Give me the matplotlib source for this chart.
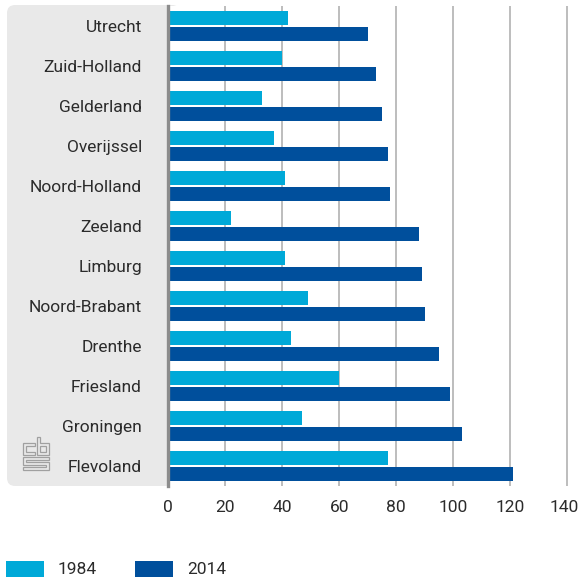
import numpy as np
import matplotlib
matplotlib.use("Agg")
import matplotlib.pyplot as plt
import matplotlib.transforms as mtransforms
from matplotlib.patches import FancyBboxPatch, Rectangle, Polygon

provincies = ["Utrecht", "Zuid-Holland", "Gelderland", "Overijssel", "Noord-Holland",
              "Zeeland", "Limburg", "Noord-Brabant", "Drenthe", "Friesland",
              "Groningen", "Flevoland"]
waarden_1984 = [42, 40, 33, 37, 41, 22, 41, 49, 43, 60, 47, 77]
waarden_2014 = [70, 73, 75, 77, 78, 88, 89, 90, 95, 99, 103, 121]
jaren = ["1984", "2014"]
kleuren = ["#00a9d8", "#004f9c"]
xticks = [0, 20, 40, 60, 80, 100, 120, 140]

W, H = 580, 581
plt.rcParams["font.family"] = ["Roboto", "DejaVu Sans"]
tekstkleur = "#2b2b2b"
fs = 12.5

fig = plt.figure(figsize=(W / 100, H / 100), dpi=100)


def fx(px):
    return px / W


def fy(py):
    return 1 - py / H


ax = fig.add_axes([fx(168.3), fy(486), (572.7 - 168.3) / W, 480 / H])

y = np.arange(len(provincies))
ax.barh(y - 0.2, waarden_1984, height=0.37, color=kleuren[0], zorder=3)
ax.barh(y + 0.2, waarden_2014, height=0.37, color=kleuren[1], zorder=3)

ax.set_xlim(0, 142)
ax.set_ylim(len(provincies) - 0.5, -0.5)
ax.set_xticks(xticks)
ax.set_yticks(y)
ax.set_yticklabels(provincies)
ax.xaxis.grid(True, color="#bdbdbd", linewidth=1.4, zorder=1)
ax.tick_params(axis="y", length=0, pad=19, labelsize=fs, labelcolor=tekstkleur)
ax.tick_params(axis="x", length=0, pad=10, labelsize=fs, labelcolor=tekstkleur)
for s in ["top", "right", "bottom"]:
    ax.spines[s].set_visible(False)
ax.spines["left"].set_color("#8c8c8c")
ax.spines["left"].set_linewidth(2.4)
ax.spines["left"].set_zorder(5)

# laatste ticklabel iets naar links zodat hij binnen het beeld valt
laatste = ax.get_xticklabels()[-1]
laatste.set_transform(laatste.get_transform() +
                      mtransforms.ScaledTranslation(-2.5 / 100, 0, fig.dpi_scale_trans))

# grijs paneel achter de labels
paneel = FancyBboxPatch((fx(7), fy(486)), fx(180 - 7), (486 - 5) / H,
                        boxstyle="round,pad=0,rounding_size=0.014",
                        transform=fig.transFigure, facecolor="#e9e9e9",
                        edgecolor="none", zorder=-1)
fig.patches.append(paneel)

# cbs-logo
logo_delen = [
    [(35, 443), (23, 443), (23, 455), (35, 455), (35, 452), (26, 452), (26, 446), (35, 446)],
    [(37, 437), (37, 455), (49, 455), (49, 443), (40, 443), (40, 437)],
    [(40, 446), (46, 446), (46, 452), (40, 452)],
    [(49, 457), (23, 457), (23, 465), (46, 465), (46, 467), (23, 467), (23, 470),
     (49, 470), (49, 462), (26, 462), (26, 460), (49, 460)],
]
for deel in logo_delen:
    pts = [(fx(a), fy(b)) for a, b in deel]
    fig.patches.append(Polygon(pts, closed=True, fill=False, edgecolor="#a0a0a0",
                               linewidth=0.9, transform=fig.transFigure, zorder=2))

# legenda
for i, (jaar, kleur) in enumerate(zip(jaren, kleuren)):
    x0 = 6 + i * 129
    fig.patches.append(Rectangle((fx(x0), fy(577)), fx(38), 16 / H, facecolor=kleur,
                                 edgecolor="none", transform=fig.transFigure))
    fig.text(fx(x0 + 52), fy(570), jaar, fontsize=fs, color=tekstkleur,
             va="center", ha="left")

fig.savefig("out.png", dpi=100)
